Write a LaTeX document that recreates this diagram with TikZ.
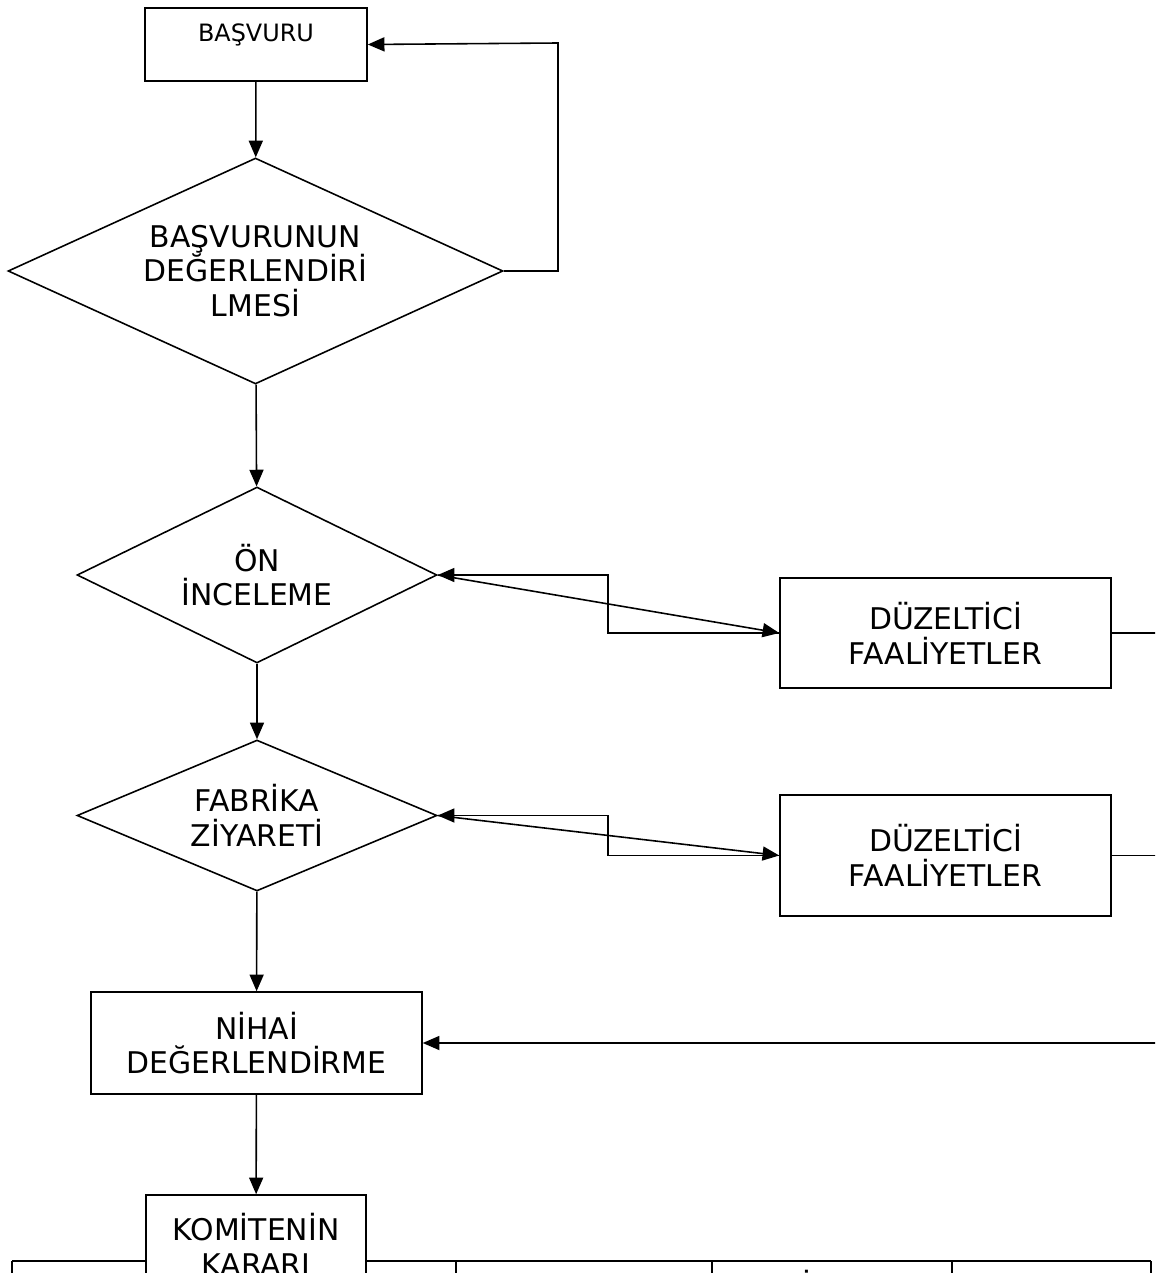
\documentclass[tikz,border=0pt]{standalone}
\usepackage{fontspec}
\setmainfont{DejaVu Sans}
\usetikzlibrary{arrows.meta, positioning, shapes.geometric, calc}

\begin{document}
\begin{tikzpicture}[
  x=0.02cm, y=-0.02cm,
  every node/.style={font=\fontsize{17}{19.8}\selectfont, align=center},
  box/.style={draw, line width=0.9pt, fill=white, inner sep=0pt},
  decision/.style={draw, line width=0.9pt, diamond, inner sep=0pt},
  arrow/.style={-{Triangle[length=9.5pt, width=8pt]}, line width=0.9pt},
  line/.style={line width=0.9pt},
  tableline/.style={line width=1.4pt}
]
  \useasboundingbox (0,0) rectangle (1155,1273);
  \clip (0,0) rectangle (1155,1273);

  % main column
  \node[box, minimum width=4.44cm, minimum height=1.46cm, text depth=14pt,
        font=\fontsize{13.6}{16}\selectfont] (basvuru) at (256,44.5) {BAŞVURU};
  \node[decision, minimum width=9.9cm, minimum height=4.52cm, aspect=2.19] (degerlendirme) at (255.5,271)
    {BAŞVURUNUN\\DEĞERLENDİRİ\\LMESİ};
  \node[decision, minimum width=7.2cm, minimum height=3.52cm, aspect=2.05] (oninceleme) at (257,575)
    {ÖN\\İNCELEME};
  \node[decision, minimum width=7.2cm, minimum height=3.02cm, aspect=2.38] (ziyaret) at (257,815.5)
    {FABRİKA\\ZİYARETİ};
  \node[box, minimum width=6.62cm, minimum height=2.04cm] (nihai) at (256.5,1043)
    {NİHAİ\\DEĞERLENDİRME};

  % corrective actions
  \node[box, minimum width=6.62cm, minimum height=2.2cm] (duzeltici1) at (945.5,633)
    {DÜZELTİCİ\\FAALİYETLER};
  \node[box, minimum width=6.62cm, minimum height=2.42cm] (duzeltici2) at (945.5,855.5)
    {DÜZELTİCİ\\FAALİYETLER};

  % table at the bottom
  \draw[tableline] (12,1261) -- (146,1261);
  \draw[tableline] (366,1261) -- (1151,1261);
  \foreach \tx in {12,456,712,952,1151}
    \draw[tableline] (\tx,1261) -- (\tx,1300);
  \node (tablecell) at (807,1284) {İ};

  \node[box, minimum width=4.4cm, minimum height=1.96cm] (komite) at (256,1244)
    {KOMİTENİN\\KARARI};

  % coordinates
  \coordinate (back) at (558,43);
  \coordinate (elbow1) at (608,575);
  \coordinate (elbow2) at (608,815.5);
  \coordinate (rail1) at (1190,633);
  \coordinate (rail2) at (1190,855.5);
  \coordinate (rail3) at (1190,1043);

  % connectors
  \draw[arrow] (basvuru) -- (degerlendirme);
  \draw[arrow] (degerlendirme.east) -| (back) -- (basvuru.east);
  \draw[arrow] (degerlendirme) -- (oninceleme);
  \draw[arrow] (oninceleme.east) -- (duzeltici1.west);
  \draw[arrow] (duzeltici1.west) -| (elbow1) -- (oninceleme.east);
  \draw[arrow] (oninceleme) -- (ziyaret);
  \draw[arrow] (ziyaret.east) -- (duzeltici2.west);
  \draw[arrow] (duzeltici2.west) -| (elbow2) -- (ziyaret.east);
  \draw[arrow] (ziyaret) -- (nihai);
  \draw[line] (duzeltici1.east) -- (rail1) -- (rail3);
  \draw[line] (duzeltici2.east) -- (rail2);
  \draw[arrow] (rail3) -- (nihai.east);
  \draw[arrow] (nihai) -- (komite);
\end{tikzpicture}
\end{document}
